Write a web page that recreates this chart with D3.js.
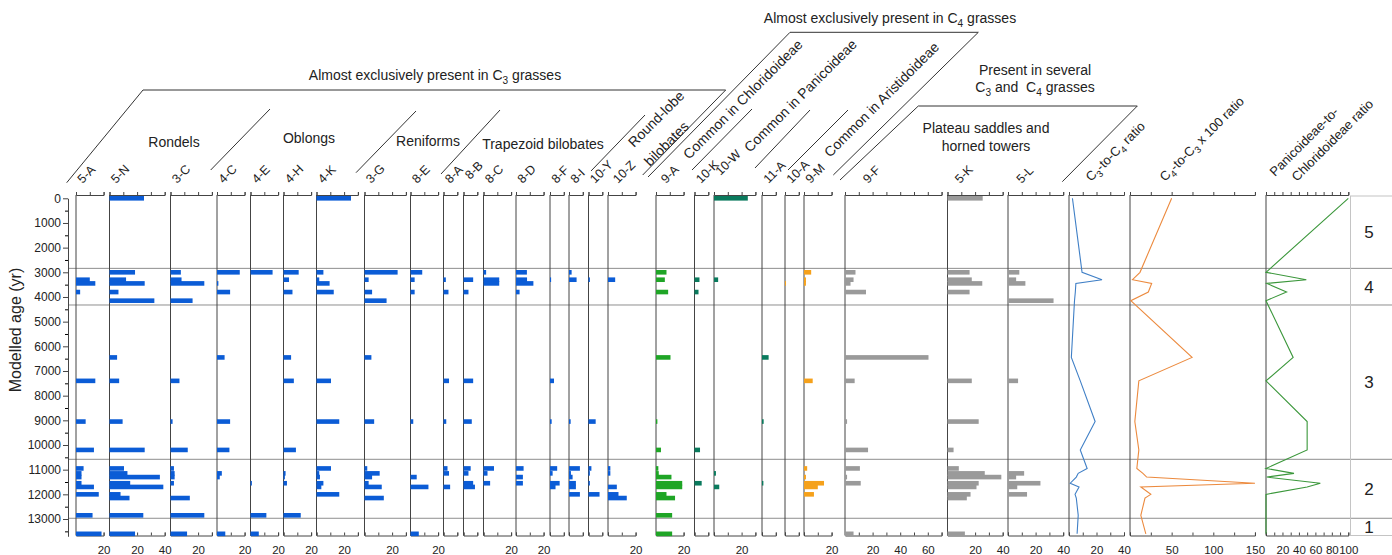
<!DOCTYPE html>
<html>
<head>
<meta charset="utf-8">
<script src="https://d3js.org/d3.v7.min.js"></script>
<style>
  body { margin: 0; background: #fff; }
  svg { display: block; font-family: "Liberation Sans", Arial, sans-serif; }
  text { fill: #222; white-space: pre; }
</style>
</head>
<body>
<script>
// sample ages (yr)
const ages = [0, 3000, 3300, 3450, 3800, 4150, 6450, 7400, 9050, 10200, 10950, 11150, 11300, 11550, 11700, 12000, 12150, 12850, 13600];

// phytolith morphotypes
const taxa = ['5-A','5-N','3-C','4-C','4-E','4-H','4-K','3-G','8-E','8-A','8-B','8-C','8-D','8-F','8-I','10-Y','10-Z','9-A','10-K','10-W','11-A','10-A','9-M','9-F','5-K','5-L'];
const taxonMax = [20,40,30,20,20,20,30,30,20,10,10,20,20,10,10,10,20,20,10,30,10,10,20,70,40,40];
const taxonGroup = ['c3','c3','c3','c3','c3','c3','c3','c3','c3','c3','c3','c3','c3','c3','c3','c3','c3','chl','pan','pan','pan','ari','ari','mix','mix','mix'];

// percentages, one row per morphotype, one value per sample age
const percentages = [
  [0,0,10,14,3,0,0,14,7,13,5.5,4,4,4,13,16.5,0,12,18.5],
  [25,18.5,12,25.5,6.5,32.5,5.5,7,9.5,25.5,10.5,13,36.5,15,39,8,14.5,24.5,18.5],
  [0,7.5,8,24.5,0,16,0,6.5,1.5,12.5,2.5,3,3,2.5,0,0,14,24.5,12],
  [0,16.5,0,1,9.5,0,5.5,0,9.5,9,0,3.5,2,0,0,0,0,0,6],
  [0,16,0,0,0,0,0,0,0,0,0,0,0,1,0,0,0,11.5,6],
  [0,11,4,0,6.5,0,5.5,7.5,0,9,0,1.5,1,2.5,0,0,0,12.5,0],
  [25,5,2,9.5,12.5,0,0,10.5,16.5,0,10.5,2,2.5,5,3.5,16.5,0,0,0],
  [0,24,3,0,5.5,16,5,0,7,0,2,11,5.5,3,12.5,0,14,0,0],
  [0,8.5,3,0,3,0,0,0,2,0,0,0,4.5,0,13,0,0,0,6],
  [0,0,1.7,0,3.6,0,0,4,2,0,2.9,4,0,0,4.8,0,0,0,0],
  [0,0,7,0,3.6,0,0,7,6,0,5.2,3.6,0,7,8.3,0,0,0,0],
  [0,1.9,11.4,11.4,0,0,0,0,0,0,7.6,2.9,0,4.8,0,0,0,0,0],
  [0,7.9,8,12.6,2.6,0,0,0,0,0,5.5,0,5,5,0,0,0,0,0],
  [0,0,0.8,0,0,0,0,2.9,1.2,0,5.2,1.9,0,7,4,0,0,0,0],
  [0,1.9,5.5,0,0,0,0,0,1.2,0,7.9,1.4,2.6,5,5,7.9,0,0,0],
  [0,0,1,0,0,0,0,0,5.2,0,2.1,1,0,1,0,8,0,0,0],
  [0,0,5.2,0,0,0,0,0,0,0,1.7,1.7,0,0,6.4,7.6,13.6,0,0],
  [0,7.6,6.4,0,8.8,0,10.5,0,1,3.6,1.7,2,11.2,19,19,7.6,13.8,11.7,11.7],
  [0,0,3.6,0,2.9,0,0,0,0,4,0,0,0,5.2,0,0,0,0,0],
  [24.5,0,3,0,0,0,0,0,0,0,0,1.4,0,0,3.8,0,0,0,0],
  [0,0,0,0,0,0,4.8,0,1.2,0,0,0,0,1,0,0,0,0,0],
  [0,0,0,0.7,0,0,0,0,0,0,0,0,0,0,0,0,0,0,0],
  [0,5.2,1.4,1.4,0,0,0,6.3,0,0,2.3,0,1.4,14.5,10,7.2,0,0,0],
  [0,7.6,6.2,4,15.2,0,60.5,7,1.5,16.7,10.8,0,1.5,11.4,0,0,0,0,6.2],
  [25.5,16,17.6,25.2,16,0,0,17.6,22.6,4.4,8.2,27,39,22.6,21,16.7,14,0,12.6],
  [0,8.2,5.9,12.6,0,33,0,7.3,0,0,0,11.7,5.9,23.5,6.7,13.8,0,0,0]
];

// ratio curves
const ratioNames = ['C_3-to-C_4 ratio', 'C_4-to-C_3 x 100 ratio'];
const c3c4Ratio = [2.5,9.5,24,5,4.6,4,1.7,8.2,19,8.2,13.2,6.7,5.3,0.9,7.3,4.4,5.3,6.7,5.9];
const c4c3Ratio = [50,12,3,26,22,1,74.5,10.6,5.8,10.6,8.2,15.5,20,150,13,25,18,13,19];
const panChlRatio = [100,0,49,1,25,0,33,0,50,50,0,34,1,66,50,0,0,0,0];
const ratioMax = [40, 150, 100];
const ratioStep = [10, 25, 10];
const pctTickLabels = [20, 40, 60];
const ratioTickLabels = [[20, 40], [50, 100, 150], [20, 40, 60, 80, 100]];

// zones
const zoneBounds = [2840, 4325, 10580, 12970];
const zoneNames = ['5', '4', '3', '2', '1'];
const ageTicks = d3.range(0, 13001, 1000);

const colors = { c3: '#0b5cd6', chl: '#1fa526', pan: '#0a7a5d', ari: '#f5a11b', mix: '#9a9a9a' };
const lineColors = ['#3f7fc6', '#ec8a3e', '#3b973b'];

// ---- layout ----
const W = 1392, H = 555;
const topY = 195, botY = 535.5;
const pctK = 1.38;
const panelX = [76,109.5,170.5,217,250.5,283.5,316.5,364.5,410.5,443.5,463.5,483.5,516,550,569,588.5,608,656,694.5,714,762,785,804,845,947.5,1008];
const ratioX = [1069, 1130, 1266];
const ratioK = [1.375, 0.833, 0.823];
const labelDx = { '10-Z': 10, '9-A': 10, '9-F': 23, '5-K': 12.5, '5-L': 13.5 };
const labelY = { '8-B': 180, '10-W': 176 };

const svg = d3.select('body').append('svg').attr('width', W).attr('height', H);

const y = d3.scaleLinear().domain([0, 13700]).range([198.3, 198.3 + 13.7 * 24.67]);

function richText(sel, str, size) {
  const parts = str.split(/_(\d)/);
  let sub = false;
  parts.forEach((p, i) => {
    if (p === '') return;
    const t = sel.append('tspan').text(p);
    if (i % 2 === 1) { t.attr('font-size', size * 0.72).attr('dy', size * 0.28); sub = true; }
    else if (sub) { t.attr('dy', -size * 0.28); sub = false; }
  });
}

// zone lines
svg.selectAll('line.zone')
  .data(zoneBounds)
  .enter().append('line')
  .attr('x1', 68).attr('x2', W)
  .attr('y1', d => y(d)).attr('y2', d => y(d))
  .attr('stroke', '#8e8e8e').attr('stroke-width', 1);

// zone box
svg.append('rect')
  .attr('x', 1350.5).attr('y', 196).attr('width', 44).attr('height', botY - 196)
  .attr('fill', 'none').attr('stroke', '#c4c4c4');
const zoneEdges = [y(0) - 2.3].concat(zoneBounds.map(y), [botY]);
svg.selectAll('text.zn')
  .data(zoneNames)
  .enter().append('text')
  .attr('x', 1369).attr('y', (d, i) => (zoneEdges[i] + zoneEdges[i + 1]) / 2 + 6)
  .attr('text-anchor', 'middle').attr('font-size', 17)
  .text(d => d);

// y axis
const yAxis = svg.append('g').attr('transform', 'translate(68,0)')
  .call(d3.axisLeft(y).tickValues(ageTicks).tickSize(5).tickSizeOuter(0).tickPadding(2).tickFormat(d3.format('d')));
svg.append('g').attr('transform', 'translate(68,0)')
  .call(d3.axisLeft(y).tickValues(d3.range(500, 13600, 1000)).tickSize(3).tickFormat(''))
  .select('.domain').remove();
yAxis.attr('font-family', null).attr('font-size', 12).attr('color', '#444');
svg.append('text')
  .attr('transform', 'translate(21,330) rotate(-90)')
  .attr('text-anchor', 'middle').attr('font-size', 16)
  .text('Modelled age (yr)');

function drawAxes(xs, max, step, labels) {
  svg.append('line')
    .attr('x1', xs(0)).attr('x2', xs(0)).attr('y1', topY).attr('y2', botY)
    .attr('stroke', '#444');
  const ticks = d3.range(0, max + 0.001, step);
  const gt = svg.append('g').attr('transform', `translate(0,${topY})`)
    .call(d3.axisTop(xs).tickValues(ticks).tickSize(3).tickSizeOuter(3).tickFormat(''));
  gt.attr('color', '#444');
  const gb = svg.append('g').attr('transform', `translate(0,${botY})`)
    .call(d3.axisBottom(xs).tickValues(ticks).tickSize(-3).tickSizeOuter(-3).tickPadding(10)
      .tickFormat(d => labels.includes(d) ? d : ''));
  gb.attr('font-family', null).attr('font-size', 11.5).attr('color', '#444');
}

// percentage panels
taxa.forEach((name, i) => {
  const x0 = panelX[i];
  const max = taxonMax[i];
  const xs = d3.scaleLinear().domain([0, max]).range([x0, x0 + max * pctK]);
  drawAxes(xs, max, 10, max >= 20 ? pctTickLabels : []);

  const rows = ages.map((a, j) => ({ age: a, v: percentages[i][j] })).filter(d => d.v > 0);
  svg.append('g').selectAll('rect')
    .data(rows)
    .enter().append('rect')
    .attr('x', xs(0))
    .attr('y', d => y(d.age) - 2.3)
    .attr('width', d => xs(d.v) - xs(0))
    .attr('height', 4.6)
    .attr('fill', colors[taxonGroup[i]]);

  const lx = x0 + (labelDx[name] !== undefined ? labelDx[name] : 6.5);
  const ly = labelY[name] || 184;
  svg.append('text')
    .attr('transform', `translate(${lx},${ly}) rotate(-45)`)
    .attr('font-size', 12.5)
    .text(name);
});

// ratio panels
const ratioSeries = [c3c4Ratio, c4c3Ratio, panChlRatio];
ratioSeries.forEach((vals, i) => {
  const x0 = ratioX[i];
  const xs = d3.scaleLinear().domain([0, ratioMax[i]]).range([x0, x0 + ratioMax[i] * ratioK[i]]);
  drawAxes(xs, ratioMax[i], ratioStep[i], ratioTickLabels[i]);
  const line = d3.line().x(d => xs(d[1])).y(d => y(d[0]));
  svg.append('path')
    .datum(ages.map((a, j) => [a, vals[j]]))
    .attr('d', line)
    .attr('fill', 'none')
    .attr('stroke', lineColors[i])
    .attr('stroke-width', 1.1);
});

// ratio headers
richText(svg.append('text').attr('transform', 'translate(1091,182) rotate(-45)').attr('font-size', 13), ratioNames[0], 13);
richText(svg.append('text').attr('transform', 'translate(1165,182) rotate(-45)').attr('font-size', 13), ratioNames[1], 13);
svg.append('text').attr('transform', 'translate(1275,177) rotate(-45)').attr('font-size', 13).text('Panicoideae-to-');
svg.append('text').attr('transform', 'translate(1297,182) rotate(-45)').attr('font-size', 13).text('Chloridoideae ratio');

// group headers
const flatLabels = [
  ['Almost exclusively present in C_3 grasses', 435, 80],
  ['Rondels', 174, 147],
  ['Oblongs', 309, 143],
  ['Reniforms', 428, 146],
  ['Trapezoid bilobates', 543, 149],
  ['Almost exclusively present in C_4 grasses', 890, 23],
  ['Present in several', 1035, 75],
  ['C_3 and  C_4 grasses', 1035, 92],
  ['Plateau saddles and', 986, 133],
  ['horned towers', 986, 151]
];
flatLabels.forEach(l => {
  richText(svg.append('text').attr('x', l[1]).attr('y', l[2]).attr('text-anchor', 'middle').attr('font-size', 14), l[0], 14);
});

const slantLabels = [
  ['Round-lobe', 634, 148],
  ['bilobates', 650, 167],
  ['Common in Chloridoideae', 689, 160],
  ['Common in Panicoideae', 750, 153],
  ['Common in Aristidoideae', 830, 158]
];
slantLabels.forEach(l => {
  svg.append('text')
    .attr('transform', `translate(${l[1]},${l[2]}) rotate(-45)`)
    .attr('font-size', 14)
    .text(l[0]);
});

const brackets = [
  [[66.7,182.7],[143,90],[725.7,90],[642.7,175]],
  [[648,177],[790,32.3],[978.3,32.3],[833.3,175]],
  [[840,180],[918.3,106],[1137.3,106],[1062.3,181.7]],
  [[210.7,170],[270,109]],
  [[356,172.7],[416,111]],
  [[441,174],[500,110]],
  [[591,171],[645,115]],
  [[692,170],[752,109]],
  [[755,168],[810,110]],
  [[788,170],[848,110]]
];
svg.selectAll('path.br')
  .data(brackets)
  .enter().append('path')
  .attr('d', d3.line())
  .attr('fill', 'none')
  .attr('stroke', '#333')
  .attr('stroke-width', 1);
</script>
</body>
</html>
